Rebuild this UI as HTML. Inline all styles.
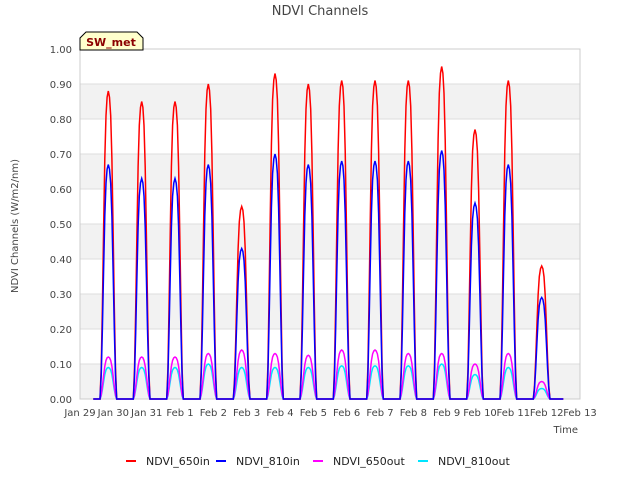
<!DOCTYPE html>
<html><head><meta charset="utf-8"><style>
body{margin:0;background:#fff;font-family:"Liberation Sans","DejaVu Sans",sans-serif;}
text{font-family:"DejaVu Sans","Liberation Sans",sans-serif;}
</style></head><body>
<svg id="chart" width="640" height="480">
<rect x="80" y="49" width="500" height="350" fill="#f2f2f2"/>
<g id="grid"></g>
<g id="series"></g>
<g id="axes"></g>
<text x="320" y="15" text-anchor="middle" font-size="13" fill="#444">NDVI Channels</text>
<text transform="translate(18,226) rotate(-90)" text-anchor="middle" font-size="10" fill="#444">NDVI Channels (W/m2/nm)</text>
<text x="578" y="433" text-anchor="end" font-size="10" fill="#444">Time</text>
<g>
<path d="M80,50 L80,38 L86,32 L137,32 L143,38 L143,50 Z" fill="#ffffcc" stroke="#000" stroke-width="1"/>
<text x="111" y="46" text-anchor="middle" font-size="11" font-weight="bold" fill="#8b0000">SW_met</text>
</g>
<g id="legend"></g>
</svg>
<script>
const xTickLabels=["Jan 29","Jan 30","Jan 31","Feb 1","Feb 2","Feb 3","Feb 4","Feb 5","Feb 6","Feb 7","Feb 8","Feb 9","Feb 10","Feb 11","Feb 12","Feb 13"];
const yTicks=[0,0.1,0.2,0.3,0.4,0.5,0.6,0.7,0.8,0.9,1.0];
const peak650in=[0.88,0.85,0.85,0.90,0.55,0.93,0.90,0.91,0.91,0.91,0.95,0.77,0.91,0.38];
const peak810in=[0.67,0.63,0.63,0.67,0.43,0.70,0.67,0.68,0.68,0.68,0.71,0.56,0.67,0.29];
const peak650out=[0.12,0.12,0.12,0.13,0.14,0.13,0.125,0.14,0.14,0.13,0.13,0.10,0.13,0.05];
const peak810out=[0.09,0.09,0.09,0.10,0.09,0.09,0.09,0.095,0.095,0.095,0.10,0.07,0.09,0.03];
const profile=[0,0.1,0.3,0.55,0.78,0.92,0.98,1,0.98,0.92,0.78,0.55,0.3,0.1,0];
const seriesNames=["NDVI_650in","NDVI_810in","NDVI_650out","NDVI_810out"];
const seriesColors=["#ff0000","#0000ff","#ff00ff","#00e5ff"];
const NS="http://www.w3.org/2000/svg";
const X0=80,X1=580,Y0=399,Y1=49;
const xs=d=>X0+(X1-X0)*d/15;
const ys=v=>Y0-(Y0-Y1)*v/1.0;
function mk(t,a,p){const e=document.createElementNS(NS,t);for(const k in a)e.setAttribute(k,a[k]);p.appendChild(e);return e;}
const grid=document.getElementById('grid'),axes=document.getElementById('axes');
for(let i=1;i<yTicks.length;i+=2){
 const r=mk('rect',{x:X0,y:ys(yTicks[i+1]??1),width:X1-X0,height:ys(yTicks[i])-ys(yTicks[i+1]??1),fill:'#ffffff'},grid);
 
 
}
yTicks.forEach(v=>{
 const l=mk('line',{x1:X0,x2:X1,y1:ys(v),y2:ys(v),stroke:'#dddddd'},grid);
 
 
 const t=mk('text',{x:X0-8,y:ys(v)+4,'text-anchor':'end','font-size':10,fill:'#444'},axes);
 t.textContent=v.toFixed(2);
 
 
});
mk('rect',{x:X0,y:Y1,width:X1-X0,height:Y0-Y1,fill:'none',stroke:'#cccccc'},grid);
xTickLabels.forEach((s,i)=>{
 const t=mk('text',{x:xs(i),y:Y0+17,'text-anchor':'middle','font-size':10,fill:'#444'},axes);
 t.textContent=s;
 
 
});
const g=document.getElementById('series');
const peaks=[peak650in,peak810in,peak650out,peak810out];
[3,2,0,1].forEach(si=>{
 const pk=peaks[si];let pts=[[xs(0.4),ys(0)]];
 pk.forEach((p,d)=>{
  const start=d+0.6,end=d+1.1;
  profile.forEach((f,k)=>{const t=start+(end-start)*k/(profile.length-1);pts.push([xs(t),ys(p*f)]);});
 });
 pts.push([xs(14.5),ys(0)]);
 const pl=mk('polyline',{points:pts.map(p=>p[0].toFixed(1)+','+p[1].toFixed(1)).join(' '),fill:'none',stroke:seriesColors[si],'stroke-width':1.5},g);
 
 
});
const lg=document.getElementById('legend');
const lx=[126,216,313,418];
seriesNames.forEach((n,i)=>{
 const e=mk('g',{},lg);
 
 
 mk('line',{x1:lx[i],x2:lx[i]+10,y1:461,y2:461,stroke:seriesColors[i],'stroke-width':2},e);
 const t=mk('text',{x:lx[i]+20,y:465,'font-size':11,fill:'#222'},e);t.textContent=n;
});
</script>
</body></html>
